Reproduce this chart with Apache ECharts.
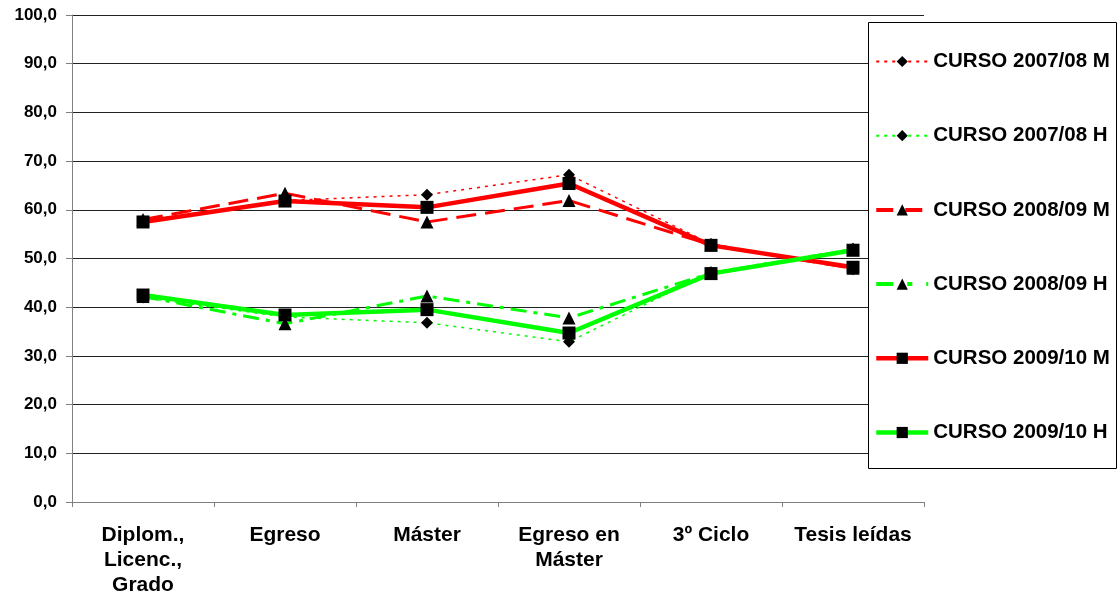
<!DOCTYPE html>
<html>
<head>
<meta charset="utf-8">
<script src="https://cdn.jsdelivr.net/npm/echarts@6/dist/echarts.min.js"></script>
<style>
html,body{margin:0;padding:0;background:#fff;}
#chart{width:1118px;height:601px;}
</style>
</head>
<body>
<div id="chart"></div>
<script>
var categories = ['Diplom.,\nLicenc.,\nGrado', 'Egreso', 'Máster', 'Egreso en\nMáster', '3º Ciclo', 'Tesis leídas'];
var seriesNames = ['CURSO 2007/08 M', 'CURSO 2007/08 H', 'CURSO 2008/09 M', 'CURSO 2008/09 H', 'CURSO 2009/10 M', 'CURSO 2009/10 H'];
var curso0708M = [57.8, 61.9, 63.1, 67.2, 53.0, 47.8];
var curso0708H = [42.0, 38.0, 36.8, 32.9, 47.2, 52.0];
var curso0809M = [58.0, 63.4, 57.5, 61.9, 52.8, 48.0];
var curso0809H = [42.2, 36.6, 42.3, 37.8, 47.0, 51.8];
var curso0910M = [57.5, 61.8, 60.5, 65.4, 52.7, 48.2];
var curso0910H = [42.5, 38.4, 39.5, 34.7, 46.9, 51.7];
var yTicks = [0, 10, 20, 30, 40, 50, 60, 70, 80, 90, 100];

var RED = '#FF0000', GREEN = '#00FF00';
var FONT = '"Liberation Sans", Arial, sans-serif';

var styles = [
  { color: RED, width: 1.5, type: [3, 5], symbol: 'diamond', size: 12 },
  { color: GREEN, width: 1.5, type: [3, 5], symbol: 'diamond', size: 12 },
  { color: RED, width: 3, type: [20, 9], symbol: 'triangle', size: 13 },
  { color: GREEN, width: 3, type: [16, 7, 4, 7], symbol: 'triangle', size: 13 },
  { color: RED, width: 4.5, type: 'solid', symbol: 'rect', size: 13 },
  { color: GREEN, width: 4.5, type: 'solid', symbol: 'rect', size: 13 }
];
var legendLine = [
  { width: 2, type: [3, 5] },
  { width: 2, type: [3, 5] },
  { width: 4, type: [17, 12] },
  { width: 4, type: [17, 14, 5, 14] },
  { width: 4.5, type: 'solid' },
  { width: 4.5, type: 'solid' }
];
var dataSets = [curso0708M, curso0708H, curso0809M, curso0809H, curso0910M, curso0910H];

var series = dataSets.map(function (d, i) {
  var s = styles[i];
  return {
    name: seriesNames[i], type: 'line', data: d,
    symbol: s.symbol, symbolSize: s.size,
    itemStyle: { color: '#000', borderWidth: 0 },
    lineStyle: { color: s.color, width: s.width, type: s.type },
    emphasis: { disabled: true },
    animation: false
  };
});

var legendData = seriesNames.map(function (n, i) {
  return {
    name: n,
    itemStyle: { color: '#000', borderWidth: 0 },
    lineStyle: { color: styles[i].color, width: legendLine[i].width, type: legendLine[i].type }
  };
});

var chart = echarts.init(document.getElementById('chart'), null, { renderer: 'canvas' });
chart.setOption({
  backgroundColor: '#fff',
  animation: false,
  grid: { left: 72, right: 194, top: 15, bottom: 99, containLabel: false },
  xAxis: {
    type: 'category', data: categories, boundaryGap: true,
    axisLine: { lineStyle: { color: '#808080', width: 1 } },
    axisTick: { show: true, length: 5, inside: false, lineStyle: { color: '#808080' } },
    axisLabel: { fontFamily: FONT, fontWeight: 'bold', fontSize: 21, color: '#000', lineHeight: 25, margin: 21, interval: 0 },
    splitLine: { show: false }
  },
  yAxis: {
    type: 'value', min: yTicks[0], max: yTicks[yTicks.length - 1], interval: yTicks[1] - yTicks[0],
    axisLine: { show: true, lineStyle: { color: '#808080', width: 1 } },
    axisTick: { show: true, length: 6, lineStyle: { color: '#808080' } },
    axisLabel: { fontFamily: FONT, fontWeight: 'bold', fontSize: 17, color: '#000', margin: 15,
      formatter: function (v) { return v.toFixed(1).replace('.', ','); } },
    splitLine: { show: true, lineStyle: { color: '#222', width: 1 } }
  },
  graphic: { elements: [{
    type: 'rect', z: 100, silent: true,
    shape: { x: 868.5, y: 22.5, width: 248, height: 446 },
    style: { fill: '#fff', stroke: '#000', lineWidth: 1 }
  }]},
  legend: {
    z: 200, orient: 'vertical', left: 869, top: 46, itemGap: 53.2,
    itemWidth: 52, itemHeight: 14,
    data: legendData,
    textStyle: { fontFamily: FONT, fontWeight: 'bold', fontSize: 20.5, color: '#000' },
    selectedMode: false
  },
  series: series
});
</script>
</body>
</html>
